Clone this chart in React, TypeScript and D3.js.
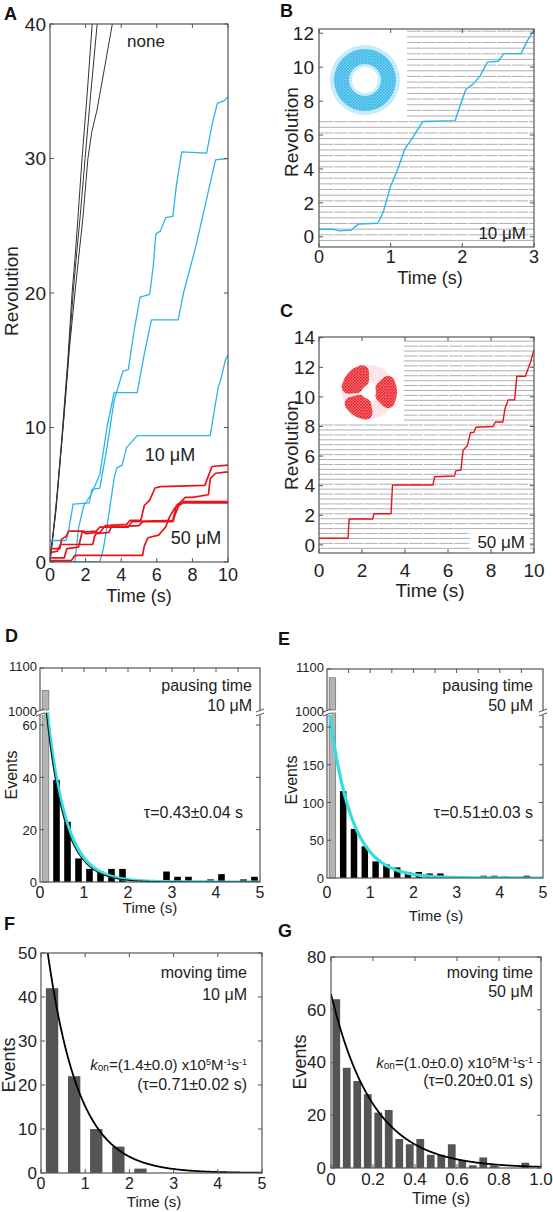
import React from 'react';
import * as d3 from 'd3';

type P = [number, number];

const FONT = '"Liberation Sans", Arial, Helvetica, sans-serif';
const TXT = '#222';
const FRAME = '#555';
const CYAN = '#2db4e6';
const RED = '#e8121a';
const FIT_CYAN = '#33dde0';
const GRID = '#8c8c8c';
const TICK = 4;

// ---------------- Panel A data ----------------
const aTimeTicks = [0, 2, 4, 6, 8, 10];
const aRevTicks = [0, 10, 20, 30, 40];
const aNone1: P[] = [[0, 0], [0.3, 3.5], [0.65, 9], [1.0, 15], [1.24, 20], [1.4, 22.5], [1.57, 25.6], [1.8, 30], [2.1, 35], [2.37, 40], [2.5, 42]];
const aNone2: P[] = [[0, 0.2], [0.35, 4], [0.7, 9.5], [1.05, 15.5], [1.3, 20], [1.5, 23], [1.69, 25.6], [1.97, 30], [2.3, 35], [2.65, 40], [2.8, 42]];
const aNone3: P[] = [[0, 0], [0.4, 5], [0.8, 11], [1.1, 16], [1.4, 20], [1.6, 22.5], [1.85, 25.6], [2.13, 30], [2.35, 32], [2.64, 33.6], [3.1, 37], [3.5, 40], [3.7, 42]];
const a10Trace1: P[] = [[0, 1.6], [0.9, 1.6], [1.0, 2.0], [1.3, 4.3], [2.2, 4.4], [2.35, 5.4], [2.8, 5.5], [3.2, 8.5], [3.6, 12], [4.1, 14.2], [4.4, 14.3], [4.7, 17], [5.06, 19.7], [5.6, 19.9], [5.8, 22], [5.95, 24.4], [6.2, 24.6], [6.5, 25.6], [6.9, 25.7], [7.1, 28], [7.4, 30.5], [8.8, 30.4], [9.1, 32.5], [9.4, 34.1], [9.8, 34.3], [10, 34.6]];
const a10Trace2: P[] = [[0, 0], [1.4, 0], [1.6, 2.5], [1.9, 4.2], [2.3, 5.0], [2.8, 6.5], [3.2, 10], [3.6, 12.6], [4.9, 12.6], [5.3, 15.5], [5.7, 18.0], [7.2, 18.0], [7.5, 20], [8.2, 23.5], [8.8, 27], [9.3, 29.9], [10, 30]];
const a10Trace3: P[] = [[0, 0], [2.8, 0], [3.0, 1], [3.3, 3.5], [3.6, 6.2], [3.75, 7.0], [4.05, 7.2], [4.3, 8.5], [4.9, 9.4], [9.0, 9.4], [9.2, 11], [9.45, 13], [9.6, 13.6], [9.85, 15], [10, 15.4]];
const a50Trace1: P[] = [[0, 1.0], [0.55, 1.0], [0.65, 1.7], [0.9, 1.9], [1.05, 2.3], [1.9, 2.3], [2.0, 2.1], [2.8, 2.2], [3.1, 2.7], [4.3, 2.8], [4.5, 3.1], [5.1, 3.1], [5.3, 4.2], [5.6, 4.6], [5.9, 5.5], [6.2, 5.6], [8.7, 5.7], [8.9, 6.4], [9.1, 7.1], [10, 7.2]];
const a50Trace2: P[] = [[0, 0.7], [0.4, 0.8], [0.6, 1.3], [2.4, 1.3], [2.5, 1.9], [2.6, 2.1], [3.3, 2.2], [3.45, 2.6], [5.0, 2.7], [5.2, 3.0], [6.9, 3.0], [7.05, 3.6], [7.3, 4.4], [7.6, 4.8], [8.0, 4.8], [8.9, 5.0], [9.0, 6.2], [9.3, 6.6], [10, 6.7]];
const a50Trace3: P[] = [[0, 0.1], [1.2, 0.1], [1.4, 0.5], [5.2, 0.5], [5.3, 1.2], [5.5, 1.8], [6.1, 2.0], [6.5, 2.6], [6.7, 3.3], [7.0, 4.0], [7.5, 4.4], [10, 4.4]];
const a50Trace4: P[] = [[0, 0.3], [0.8, 0.3], [0.95, 1.0], [1.6, 1.1], [1.8, 2.2], [2.6, 2.3], [2.8, 2.6], [4.4, 2.6], [4.6, 3.0], [6.9, 3.1], [7.1, 4.2], [7.4, 4.5], [10, 4.5]];

// ---------------- Panel B data ----------------
const bTimeTicks = [0, 1, 2, 3];
const bRevTicks = [0, 2, 4, 6, 8, 10, 12];
const bTrace: P[] = [[0, 0.45], [0.2, 0.45], [0.28, 0.35], [0.45, 0.4], [0.55, 0.75], [0.82, 0.8], [0.9, 1.5], [1.0, 3.0], [1.1, 4.0], [1.2, 5.2], [1.3, 5.8], [1.45, 6.8], [1.9, 6.85], [1.95, 7.5], [2.05, 8.7], [2.15, 9.0], [2.25, 9.5], [2.35, 10.3], [2.5, 10.35], [2.58, 10.8], [2.82, 10.8], [2.9, 11.5], [3.0, 12.2]];
const bStepLevels = d3.range(-1, 38).map((k) => k / 3 + 0.12);

// ---------------- Panel C data ----------------
const cTimeTicks = [0, 2, 4, 6, 8, 10];
const cRevTicks = [0, 2, 4, 6, 8, 10, 12, 14];
const cTrace: P[] = [[0, 0.45], [1.35, 0.45], [1.4, 1.75], [2.5, 1.75], [2.55, 2.1], [3.35, 2.1], [3.42, 4.05], [5.3, 4.05], [5.38, 4.6], [6.3, 4.65], [6.36, 5.0], [6.6, 5.05], [6.7, 6.4], [6.9, 6.7], [7.05, 7.6], [7.2, 7.6], [7.3, 7.95], [8.1, 8.0], [8.2, 8.3], [8.55, 8.3], [8.65, 9.2], [8.8, 9.8], [9.1, 9.8], [9.2, 11.4], [9.6, 11.4], [9.75, 12.0], [9.85, 12.4], [10, 13.2]];
const cStepLevels = d3.range(-1, 43).map((k) => k / 3 + 0.1);

// ---------------- Panel D / E data ----------------
const pauseBinCenters = [0.125, 0.375, 0.625, 0.875, 1.125, 1.375, 1.625, 1.875, 2.125, 2.375, 2.625, 2.875, 3.125, 3.375, 3.625, 3.875, 4.125, 4.375, 4.625, 4.875];
const pauseCounts10 = [1050, 39, 23, 9, 5, 4, 5, 5, 0, 0, 0, 4, 2, 2, 0, 1, 3, 0, 1, 2];
const pauseCounts50 = [1080, 115, 65, 42, 22, 18, 14, 8, 8, 6, 6, 2, 1, 0, 3, 3, 2, 1, 3, 1];
const pauseTimeTicks = [0, 1, 2, 3, 4, 5];
const pauseTopTicks = [0.5, 1, 1.5, 2, 2.5, 3, 3.5, 4, 4.5];
const dLowerTicks = [0, 20, 40, 60];
const eLowerTicks = [0, 50, 100, 150, 200];
const upperTicks = [1000, 1100];

// ---------------- Panel F / G data ----------------
const moveBinCenters10 = [0.25, 0.75, 1.25, 1.75, 2.25];
const moveCounts10 = [42, 22, 10, 6, 1];
const moveBinCenters50 = [0.025, 0.075, 0.125, 0.175, 0.225, 0.275, 0.325, 0.375, 0.425, 0.475, 0.525, 0.575, 0.625, 0.675, 0.725, 0.775, 0.825, 0.875, 0.925, 0.975];
const moveCounts50 = [64, 38, 33, 28, 21, 22, 11, 9, 11, 5, 5, 9, 3, 1, 4, 1, 0, 0, 2, 0];
const fTimeTicks = [0, 1, 2, 3, 4, 5];
const fEventTicks = [0, 10, 20, 30, 40, 50];
const gTimeTicks = [0, 0.2, 0.4, 0.6, 0.8, 1.0];
const gTimeLabels = ['0', '0.2', '0.4', '0.6', '0.8', '1.0'];
const gEventTicks = [0, 20, 40, 60, 80];

type Sc = d3.ScaleLinear<number, number>;

function XTicks({ s, vals, yTop, yBot, top = true, bottom = true }: { s: Sc; vals: number[]; yTop: number; yBot: number; top?: boolean; bottom?: boolean }) {
  return (
    <g stroke={FRAME} strokeWidth={1}>
      {vals.map((v, i) => (
        <g key={i}>
          {bottom && <line x1={s(v)} x2={s(v)} y1={yBot} y2={yBot - TICK} />}
          {top && <line x1={s(v)} x2={s(v)} y1={yTop} y2={yTop + TICK} />}
        </g>
      ))}
    </g>
  );
}

function YTicks({ s, vals, xL, xR, left = true, right = true }: { s: Sc; vals: number[]; xL: number; xR: number; left?: boolean; right?: boolean }) {
  return (
    <g stroke={FRAME} strokeWidth={1}>
      {vals.map((v, i) => (
        <g key={i}>
          {left && <line x1={xL} x2={xL + TICK} y1={s(v)} y2={s(v)} />}
          {right && <line x1={xR} x2={xR - TICK} y1={s(v)} y2={s(v)} />}
        </g>
      ))}
    </g>
  );
}

function XLabels({ s, vals, y, size, labels }: { s: Sc; vals: number[]; y: number; size: number; labels?: string[] }) {
  return (
    <g fontSize={size} fill={TXT} textAnchor="middle">
      {vals.map((v, i) => (
        <text key={i} x={s(v)} y={y}>{labels ? labels[i] : String(v)}</text>
      ))}
    </g>
  );
}

function YLabels({ s, vals, x, size, dy = 0.35 }: { s: Sc; vals: number[]; x: number; size: number; dy?: number }) {
  return (
    <g fontSize={size} fill={TXT} textAnchor="end">
      {vals.map((v, i) => (
        <text key={i} x={x} y={s(v)} dy={`${dy}em`}>{String(v)}</text>
      ))}
    </g>
  );
}

function RotLabel({ x, y, text, size }: { x: number; y: number; text: string; size: number }) {
  return (
    <text transform={`translate(${x},${y}) rotate(-90)`} textAnchor="middle" fontSize={size} fill={TXT}>{text}</text>
  );
}

function PanelLabel({ x, y, t }: { x: number; y: number; t: string }) {
  return <text x={x} y={y} fontSize={18} fontWeight="bold" fill="#111">{t}</text>;
}

function Frame({ x0, x1, y0, y1 }: { x0: number; x1: number; y0: number; y1: number }) {
  return <rect x={x0} y={y0} width={x1 - x0} height={y1 - y0} fill="none" stroke={FRAME} strokeWidth={1.2} />;
}

// ---------------- Panel A ----------------
function PanelA() {
  const x0 = 50, x1 = 228, y0 = 24, y1 = 562;
  const x = d3.scaleLinear().domain([0, 10]).range([x0, x1]);
  const y = d3.scaleLinear().domain([0, 40]).range([y1, y0]);
  const line = d3.line<P>().x((d) => x(d[0])).y((d) => y(d[1]));
  const none = [aNone1, aNone2, aNone3];
  const c10 = [a10Trace1, a10Trace2, a10Trace3];
  const c50 = [a50Trace1, a50Trace2, a50Trace3, a50Trace4];
  return (
    <g>
      <defs>
        <clipPath id="clipA"><rect x={x0} y={y0} width={x1 - x0} height={y1 - y0} /></clipPath>
      </defs>
      <g clipPath="url(#clipA)" fill="none" strokeLinejoin="round">
        {none.map((t, i) => <path key={'n' + i} d={line(t) || ''} stroke="#333" strokeWidth={1} />)}
        {c10.map((t, i) => <path key={'c' + i} d={line(t) || ''} stroke={CYAN} strokeWidth={1.3} />)}
        {c50.map((t, i) => <path key={'r' + i} d={line(t) || ''} stroke={RED} strokeWidth={1.7} />)}
      </g>
      <Frame x0={x0} x1={x1} y0={y0} y1={y1} />
      <XTicks s={x} vals={aTimeTicks} yTop={y0} yBot={y1} />
      <YTicks s={y} vals={aRevTicks} xL={x0} xR={x1} />
      <XLabels s={x} vals={aTimeTicks} y={581} size={18} />
      <YLabels s={y} vals={aRevTicks} x={46} size={19} />
      <text x={139} y={602} textAnchor="middle" fontSize={18} fill={TXT}>Time (s)</text>
      <RotLabel x={18} y={291} text="Revolution" size={19} />
      <text x={146} y={47} textAnchor="middle" fontSize={17} fill={TXT}>none</text>
      <text x={170} y={461} textAnchor="middle" fontSize={18} fill={TXT}>10 μM</text>
      <text x={196} y={544} textAnchor="middle" fontSize={18} fill={TXT}>50 μM</text>
      <PanelLabel x={4} y={20} t="A" />
    </g>
  );
}

function Speckle({ id, color }: { id: string; color: string }) {
  return (
    <pattern id={id} width={3} height={3} patternUnits="userSpaceOnUse">
      <rect width={3} height={3} fill={color} opacity={0.55} />
      <circle cx={0.8} cy={0.8} r={0.9} fill={color} />
      <circle cx={2.3} cy={2.2} r={0.7} fill={color} />
    </pattern>
  );
}

// ---------------- Panel B ----------------
function PanelB() {
  const x0 = 319, x1 = 534, y0 = 29, y1 = 247;
  const x = d3.scaleLinear().domain([0, 3]).range([x0, x1]);
  const y = d3.scaleLinear().domain([-0.6, 12.25]).range([y1, y0]);
  const line = d3.line<P>().x((d) => x(d[0])).y((d) => y(d[1]));
  const insetR = 407, insetB = 120;
  const ring = d3.arc()({ innerRadius: 16, outerRadius: 31, startAngle: 0, endAngle: 2 * Math.PI } as any) || '';
  const ringFuzz = d3.arc()({ innerRadius: 13, outerRadius: 35, startAngle: 0, endAngle: 2 * Math.PI } as any) || '';
  return (
    <g>
      <defs><Speckle id="speckB" color={CYAN} /></defs>
      <g stroke={GRID} strokeWidth={0.8} opacity={0.85}>
        {bStepLevels.filter((v) => y(v) > y0 + 1 && y(v) < y1 - 1).map((v, i) => (
          <line key={i} x1={y(v) < insetB ? insetR : x0} x2={x1} y1={y(v)} y2={y(v)} strokeDasharray={i % 2 ? '14 1' : undefined} />
        ))}
      </g>
      <g transform="translate(365,80)">
        <path d={ringFuzz} fill="url(#speckB)" opacity={0.35} />
        <path d={ring} fill="url(#speckB)" />
      </g>
      <path d={line(bTrace) || ''} fill="none" stroke={CYAN} strokeWidth={1.4} strokeLinejoin="round" />
      <Frame x0={x0} x1={x1} y0={y0} y1={y1} />
      <XTicks s={x} vals={bTimeTicks} yTop={y0} yBot={y1} />
      <YTicks s={y} vals={bRevTicks} xL={x0} xR={x1} />
      <XLabels s={x} vals={bTimeTicks} y={263} size={18} />
      <YLabels s={y} vals={bRevTicks} x={314} size={19} />
      <text x={430} y={284} textAnchor="middle" fontSize={18} fill={TXT}>Time (s)</text>
      <RotLabel x={298} y={132} text="Revolution" size={19} />
      <text x={526} y={239} textAnchor="end" fontSize={17} fill={TXT}>10 μM</text>
      <PanelLabel x={280} y={17} t="B" />
    </g>
  );
}

// ---------------- Panel C ----------------
function PanelC() {
  const x0 = 319, x1 = 534, y0 = 337, y1 = 553;
  const x = d3.scaleLinear().domain([0, 10]).range([x0, x1]);
  const y = d3.scaleLinear().domain([-0.55, 14.05]).range([y1, y0]);
  const line = d3.line<P>().x((d) => x(d[0])).y((d) => y(d[1]));
  const insetR = 404, insetB = 423;
  const arc = d3.arc().cornerRadius(7);
  const deg = Math.PI / 180;
  const blobs = [
    { s: 45, e: 135 },
    { s: -95, e: 0 },
    { s: 170, e: 255 },
  ];
  const faint = d3.arc()({ innerRadius: 10, outerRadius: 27, startAngle: 0, endAngle: 2 * Math.PI } as any) || '';
  return (
    <g>
      <defs><Speckle id="speckC" color={RED} /></defs>
      <g stroke={GRID} strokeWidth={0.8} opacity={0.85}>
        {cStepLevels.filter((v) => y(v) > y0 + 1 && y(v) < y1 - 1).map((v, i) => (
          <line key={i} x1={y(v) < insetB ? insetR : x0} x2={x1} y1={y(v)} y2={y(v)} strokeDasharray={i % 2 ? '14 1' : undefined} />
        ))}
      </g>
      <g transform="translate(369,392)">
        <path d={faint} fill="url(#speckC)" opacity={0.15} />
        {blobs.map((b, i) => (
          <path key={i} d={arc({ innerRadius: 7, outerRadius: 28, startAngle: b.s * deg, endAngle: b.e * deg } as any) || ''} fill="url(#speckC)" />
        ))}
      </g>
      <rect x={470} y={532} width={60} height={17} fill="#fff" />
      <path d={line(cTrace) || ''} fill="none" stroke={RED} strokeWidth={1.4} strokeLinejoin="round" />
      <Frame x0={x0} x1={x1} y0={y0} y1={y1} />
      <XTicks s={x} vals={cTimeTicks} yTop={y0} yBot={y1} />
      <YTicks s={y} vals={cRevTicks} xL={x0} xR={x1} />
      <XLabels s={x} vals={cTimeTicks} y={577} size={19} />
      <YLabels s={y} vals={cRevTicks} x={315} size={19} />
      <text x={430} y={597} textAnchor="middle" fontSize={19} fill={TXT}>Time (s)</text>
      <RotLabel x={298} y={445} text="Revolution" size={19} />
      <text x={525} y={548} textAnchor="end" fontSize={17} fill={TXT}>50 μM</text>
      <PanelLabel x={280} y={317} t="C" />
    </g>
  );
}

// ---------------- Panels D / E (broken axis histograms) ----------------
type Fit = { A: number; tau: number; color: string; width: number };
function BreakHist(props: {
  id: string; x0: number; x1: number; yTop: number; yBreak: number; yBot: number;
  lowerMax: number; counts: number[]; lowerTicks: number[]; rightTicks: number[]; fits: Fit[];
  yLabelX: number; eventsX: number; eventsY: number; timeX: number; timeY: number;
  label: string; labelX: number; labelY: number; conc: string; tauText: string; textRight: number; tauRight: number;
}) {
  const p = props;
  const x = d3.scaleLinear().domain([0, 5]).range([p.x0, p.x1]);
  const yL = d3.scaleLinear().domain([0, p.lowerMax]).range([p.yBot, p.yBreak]);
  const yU = d3.scaleLinear().domain([1000, 1100]).range([p.yBreak, p.yTop]);
  const bw = x(0.15) - x(0);
  const fitLine = (f: Fit) =>
    d3.line<number>().x((t) => x(t)).y((t) => yL(f.A * Math.exp(-t / f.tau)))(d3.range(0, 5.001, 0.02)) || '';
  return (
    <g>
      <defs>
        <clipPath id={p.id}><rect x={p.x0} y={p.yBreak} width={p.x1 - p.x0} height={p.yBot - p.yBreak} /></clipPath>
      </defs>
      {pauseBinCenters.map((c, i) => {
        const v = p.counts[i];
        const bx = x(c) - bw / 2;
        if (v > 1000) {
          return (
            <g key={i} fill="#b4b4b4" stroke="#777" strokeWidth={0.8}>
              <rect x={bx} y={yU(v)} width={bw} height={p.yBreak - 3 - yU(v)} />
              <rect x={bx} y={p.yBreak} width={bw} height={p.yBot - p.yBreak} />
            </g>
          );
        }
        return <rect key={i} x={bx} y={yL(v)} width={bw} height={p.yBot - yL(v)} fill="#000" />;
      })}
      <g clipPath={`url(#${p.id})`} fill="none">
        {p.fits.map((f, i) => <path key={i} d={fitLine(f)} stroke={f.color} strokeWidth={f.width} />)}
      </g>
      <Frame x0={p.x0} x1={p.x1} y0={p.yTop} y1={p.yBot} />
      <rect x={p.x0 - 4} y={p.yBreak - 2} width={8} height={4} fill="#fff" />
      <rect x={p.x1 - 4} y={p.yBreak - 2} width={8} height={4} fill="#fff" />
      <g stroke={FRAME} strokeWidth={1}>
        <line x1={p.x0 - 4} y1={p.yBreak - 1} x2={p.x0 + 4} y2={p.yBreak - 4} />
        <line x1={p.x0 - 4} y1={p.yBreak + 3} x2={p.x0 + 4} y2={p.yBreak} />
        <line x1={p.x1 - 4} y1={p.yBreak - 1} x2={p.x1 + 4} y2={p.yBreak - 4} />
        <line x1={p.x1 - 4} y1={p.yBreak + 3} x2={p.x1 + 4} y2={p.yBreak} />
      </g>
      <XTicks s={x} vals={pauseTopTicks} yTop={p.yTop} yBot={p.yBot} bottom={false} />
      <YTicks s={yL} vals={p.rightTicks} xL={p.x0} xR={p.x1} />
      <YTicks s={yU} vals={[1100]} xL={p.x0} xR={p.x1} right={false} />
      <XLabels s={x} vals={pauseTimeTicks} y={898} size={16} />
      <YLabels s={yL} vals={p.lowerTicks} x={p.yLabelX} size={13} dy={0.4} />
      <YLabels s={yU} vals={upperTicks} x={p.yLabelX} size={13} dy={0.2} />
      <RotLabel x={p.eventsX} y={p.eventsY} text="Events" size={16} />
      <text x={p.timeX} y={p.timeY} textAnchor="middle" fontSize={15} fill={TXT}>Time (s)</text>
      <g fontSize={16} fill={TXT} textAnchor="end">
        <text x={p.textRight} y={691}>pausing time</text>
        <text x={p.textRight} y={711}>{p.conc}</text>
        <text x={p.tauRight} y={818}>{p.tauText}</text>
      </g>
      <PanelLabel x={p.labelX} y={p.labelY} t={p.label} />
    </g>
  );
}

// ---------------- Panels F / G ----------------
function MoveHist(props: {
  id: string; x0: number; x1: number; y0: number; y1: number; xMax: number; yMax: number;
  centers: number[]; counts: number[]; barW: number; fitA: number; fitTau: number;
  xTicks: number[]; xLabels?: string[]; yTicks: number[]; yLabelX: number; xLabelY: number; xLabelSize: number;
  eventsX: number; eventsY: number; timeX: number; timeY: number; timeSize: number;
  label: string; labelX: number; labelY: number; textRight: number; conc: string; concY: number;
  kon: string; tauText: string; konY: number; tauY: number;
}) {
  const p = props;
  const x = d3.scaleLinear().domain([0, p.xMax]).range([p.x0, p.x1]);
  const y = d3.scaleLinear().domain([0, p.yMax]).range([p.y1, p.y0]);
  const bw = x(p.barW) - x(0);
  const fit = d3.line<number>().x((t) => x(t)).y((t) => y(p.fitA * Math.exp(-t / p.fitTau)))(d3.range(0, p.xMax * 1.0001, p.xMax / 250)) || '';
  return (
    <g>
      <defs>
        <clipPath id={p.id}><rect x={p.x0} y={p.y0} width={p.x1 - p.x0} height={p.y1 - p.y0} /></clipPath>
      </defs>
      {p.centers.map((c, i) => (
        <rect key={i} x={x(c) - bw / 2} y={y(p.counts[i])} width={bw} height={p.y1 - y(p.counts[i])} fill="#555" />
      ))}
      <g clipPath={`url(#${p.id})`}>
        <path d={fit} fill="none" stroke="#000" strokeWidth={1.8} />
      </g>
      <Frame x0={p.x0} x1={p.x1} y0={p.y0} y1={p.y1} />
      <XTicks s={x} vals={p.xTicks} yTop={p.y0} yBot={p.y1} />
      <YTicks s={y} vals={p.yTicks} xL={p.x0} xR={p.x1} />
      <XLabels s={x} vals={p.xTicks} y={p.xLabelY} size={p.xLabelSize} labels={p.xLabels} />
      <YLabels s={y} vals={p.yTicks} x={p.yLabelX} size={17} />
      <RotLabel x={p.eventsX} y={p.eventsY} text="Events" size={18} />
      <text x={p.timeX} y={p.timeY} textAnchor="middle" fontSize={p.timeSize} fill={TXT}>Time (s)</text>
      <g fontSize={16} fill={TXT} textAnchor="end">
        <text x={p.textRight} y={978}>moving time</text>
        <text x={p.textRight} y={p.concY}>{p.conc}</text>
        <text x={p.textRight} y={p.konY} fontSize={15}>
          <tspan fontStyle="italic">k</tspan>
          <tspan fontSize={10} dy={1}>on</tspan>
          <tspan dy={-1}>{`=(${p.kon}) x10`}</tspan>
          <tspan fontSize={9} dy={-5}>5</tspan>
          <tspan dy={5}>M</tspan>
          <tspan fontSize={9} dy={-5}>-1</tspan>
          <tspan dy={5}>s</tspan>
          <tspan fontSize={9} dy={-5}>-1</tspan>
        </text>
        <text x={p.textRight} y={p.tauY}>{`(τ=${p.tauText} s)`}</text>
      </g>
      <PanelLabel x={p.labelX} y={p.labelY} t={p.label} />
    </g>
  );
}

export default function App() {
  return (
    <svg width={553} height={1212} style={{ position: 'absolute', left: 0, top: 0, background: '#fff' }} fontFamily={FONT}>
      <PanelA />
      <PanelB />
      <PanelC />
      <BreakHist
        id="clipD" x0={40} x1={260} yTop={668} yBreak={713} yBot={882} lowerMax={64.6}
        counts={pauseCounts10} lowerTicks={dLowerTicks} rightTicks={[20, 40, 60]}
        fits={[{ A: 95, tau: 0.43, color: FIT_CYAN, width: 3.2 }, { A: 92, tau: 0.41, color: '#111', width: 1.1 }]}
        yLabelX={37} eventsX={17} eventsY={775} timeX={150} timeY={913}
        label="D" labelX={5} labelY={642} conc="10 μM" tauText="τ=0.43±0.04 s" textRight={252} tauRight={243}
      />
      <BreakHist
        id="clipE" x0={327} x1={543} yTop={669} yBreak={713} yBot={878} lowerMax={218.5}
        counts={pauseCounts50} lowerTicks={eLowerTicks} rightTicks={[50, 100, 150, 200]}
        fits={[{ A: 245, tau: 0.51, color: FIT_CYAN, width: 3.2 }]}
        yLabelX={324} eventsX={297} eventsY={780} timeX={436} timeY={921}
        label="E" labelX={278} labelY={645} conc="50 μM" tauText="τ=0.51±0.03 s" textRight={533} tauRight={533}
      />
      <MoveHist
        id="clipF" x0={41} x1={262} y0={953} y1={1173} xMax={5} yMax={50}
        centers={moveBinCenters10} counts={moveCounts10} barW={0.28} fitA={62} fitTau={0.71}
        xTicks={fTimeTicks} yTicks={fEventTicks} yLabelX={37} xLabelY={1189} xLabelSize={16}
        eventsX={15} eventsY={1065} timeX={154} timeY={1207} timeSize={15}
        label="F" labelX={4} labelY={930} textRight={247} conc="10 μM" concY={1000}
        kon="1.4±0.0" tauText="0.71±0.02" konY={1070} tauY={1090}
      />
      <MoveHist
        id="clipG" x0={331} x1={541} y0={957} y1={1168} xMax={1} yMax={80}
        centers={moveBinCenters50} counts={moveCounts50} barW={0.037} fitA={66} fitTau={0.2}
        xTicks={gTimeTicks} xLabels={gTimeLabels} yTicks={gEventTicks} yLabelX={326} xLabelY={1185} xLabelSize={17}
        eventsX={306} eventsY={1062} timeX={441} timeY={1204} timeSize={16}
        label="G" labelX={278} labelY={937} textRight={533} conc="50 μM" concY={997}
        kon="1.0±0.0" tauText="0.20±0.01" konY={1068} tauY={1086}
      />
    </svg>
  );
}
